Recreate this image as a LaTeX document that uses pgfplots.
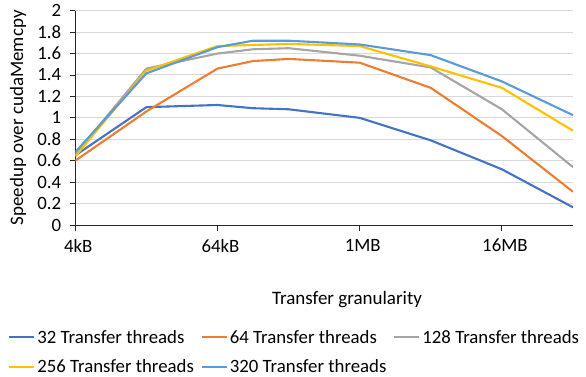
\documentclass[border=0pt]{standalone}
\usepackage{pgfplots}
\pgfplotsset{compat=1.18}
\usepackage{fontspec}
\setmainfont{Carlito}
\definecolor{sA}{HTML}{4472C4}
\definecolor{sB}{HTML}{ED7D31}
\definecolor{sC}{HTML}{A5A5A5}
\definecolor{sD}{HTML}{FFC000}
\definecolor{sE}{HTML}{5B9BD5}
\definecolor{gridc}{HTML}{D9D9D9}
\newcommand{\cf}{\fontsize{18.8}{22}\selectfont}
\begin{document}
\begin{tikzpicture}
\path[use as bounding box] (-75.3pt,-151pt) rectangle (510.7pt,225pt);
\begin{axis}[
  at={(0,0)}, anchor=south west,
  scale only axis, width=497.7pt, height=214.3pt,
  xmin=0, xmax=14, ymin=0, ymax=2,
  xtick={0,4,8,12}, xticklabels={4kB,64kB,1MB,16MB},
  ytick={0,0.2,0.4,0.6,0.8,1,1.2,1.4,1.6,1.8,2},
  yticklabels={0,0.2,0.4,0.6,0.8,1,1.2,1.4,1.6,1.8,2},
  axis x line*=bottom, axis y line*=left,
  axis line style={black!85, line width=0.9pt, -},
  tick style={black!85, line width=0.9pt},
  tick align=outside, major tick length=5.5pt,
  ymajorgrids, grid style={gridc, line width=1pt},
  ticklabel style={font=\cf},
  yticklabel style={xshift=-5pt},
  xticklabel style={xshift=3pt, yshift=-5pt},
  /pgf/number format/assume math mode=true,
  xlabel={Transfer granularity},
  ylabel={Speedup over cudaMemcpy},
  label style={font=\fontsize{19}{22}\selectfont},
  xlabel style={at={(axis description cs:0.546,-0.35)}, anchor=center},
  ylabel style={at={(axis description cs:-0.115,0.5)}, anchor=center},
  legend columns=3,
  legend cell align=left,
  legend style={at={(axis description cs:-0.135,-0.48)}, anchor=north west, draw=none, fill=none,
    font=\cf, inner sep=0pt, row sep=11pt,
    /tikz/every even column/.append style={column sep=5pt}},
  legend image code/.code={\draw[#1, line width=2pt] (0pt,0pt) -- (25pt,0pt);},
  every axis plot/.append style={line width=2.1pt, mark=none, line join=round},
]
\addplot[sA] coordinates {(0,0.65) (2,1.10) (4,1.12) (5,1.09) (6,1.08) (8,1.00) (10,0.79) (12,0.52) (14,0.165)};
\addlegendentry{32 Transfer threads}
\addplot[sB] coordinates {(0,0.60) (2,1.06) (4,1.46) (5,1.53) (6,1.55) (8,1.515) (10,1.28) (12,0.83) (14,0.31)};
\addlegendentry{64 Transfer threads}
\addplot[sC] coordinates {(0,0.66) (2,1.46) (4,1.60) (5,1.64) (6,1.65) (8,1.58) (10,1.47) (12,1.08) (14,0.54)};
\addlegendentry{128 Transfer threads}
\addplot[sD] coordinates {(0,0.64) (2,1.44) (4,1.67) (5,1.68) (6,1.69) (8,1.67) (10,1.48) (12,1.28) (14,0.88)};
\addlegendentry{256 Transfer threads}
\addplot[sE] coordinates {(0,0.68) (2,1.415) (4,1.66) (5,1.72) (6,1.72) (8,1.685) (10,1.585) (12,1.34) (14,1.025)};
\addlegendentry{320 Transfer threads}
\end{axis}
\end{tikzpicture}
\end{document}
